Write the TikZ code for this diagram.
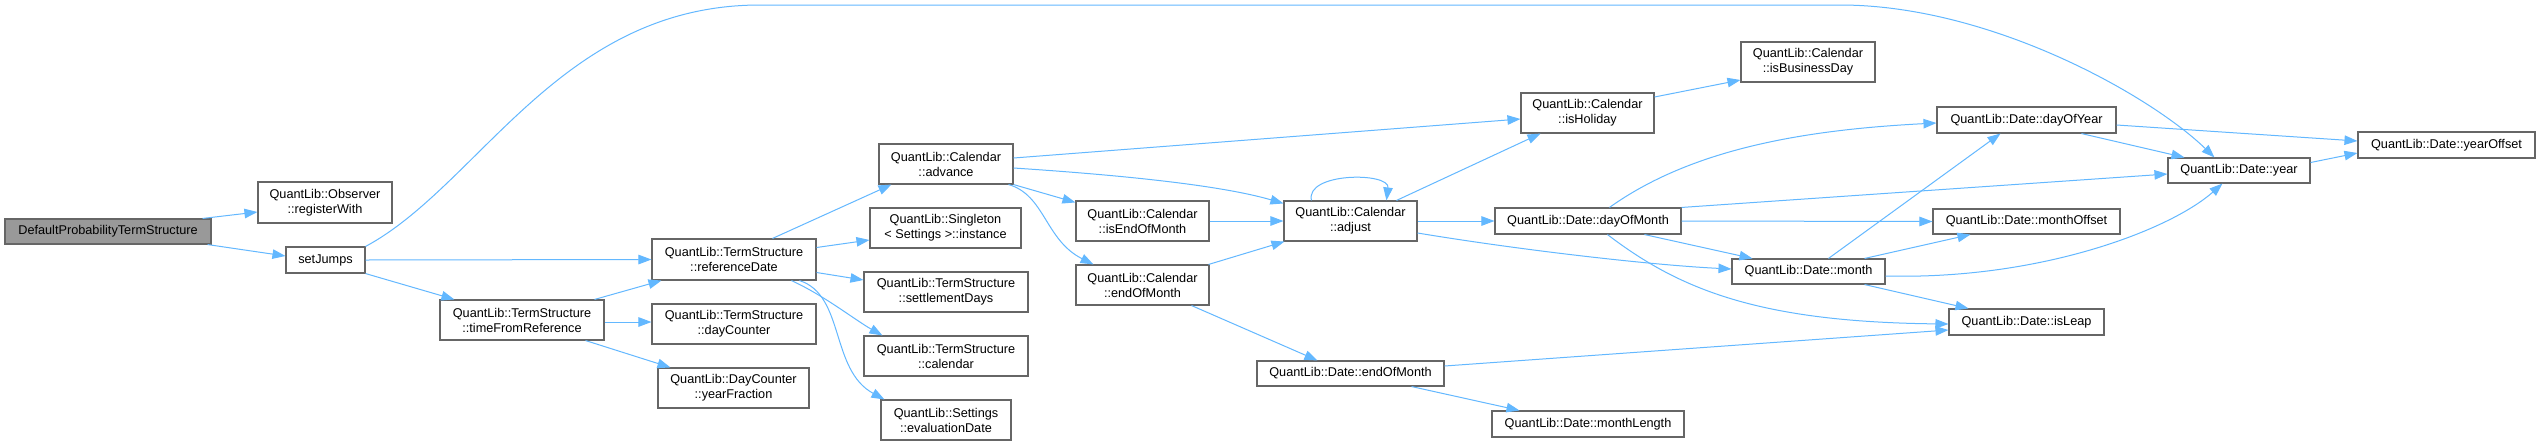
\documentclass[tikz,border=0pt]{standalone}
\usepackage{fontspec}
\setmainfont{Liberation Sans}
\usetikzlibrary{arrows.meta,calc}
\definecolor{edgeblue}{HTML}{63B8FF}
\definecolor{boxgray}{HTML}{666666}
\definecolor{rootfill}{HTML}{999999}
\begin{document}
\begin{tikzpicture}[x=1pt,y=-1pt,
  fn/.style={draw=boxgray, line width=1.1pt, fill=white, inner sep=0pt, align=center, font=\fontsize{12.7}{15}\selectfont},
  root/.style={fn, fill=rootfill},
  sz/.style 2 args={minimum width=#1pt, minimum height=#2pt},
  e/.style={draw=edgeblue, line width=1pt, -{Triangle[length=13pt,width=9.5pt]}}]
\useasboundingbox[fill=white] (0,0) rectangle (2540,445);

\node[root, sz={206}{25}] (dpts) at (108,231.5) {DefaultProbabilityTermStructure};
\node[fn, sz={134}{41}] (regw) at (325,202.5) {QuantLib::Observer\\::registerWith};
\node[fn, sz={79}{26}] (setj) at (325.5,260) {setJumps};
\node[fn, sz={164}{40}] (tfr) at (522,320) {QuantLib::TermStructure\\::timeFromReference};
\node[fn, sz={164}{41}] (refd) at (734,259.5) {QuantLib::TermStructure\\::referenceDate};
\node[fn, sz={164}{40}] (dcnt) at (734,324) {QuantLib::TermStructure\\::dayCounter};
\node[fn, sz={151}{40}] (yfr) at (733.5,388) {QuantLib::DayCounter\\::yearFraction};
\node[fn, sz={134}{40}] (adv) at (946,164) {QuantLib::Calendar\\::advance};
\node[fn, sz={151}{40}] (inst) at (945.5,228) {QuantLib::Singleton\\< Settings >::instance};
\node[fn, sz={164}{40}] (sdays) at (946,292) {QuantLib::TermStructure\\::settlementDays};
\node[fn, sz={164}{40}] (cal) at (946,356) {QuantLib::TermStructure\\::calendar};
\node[fn, sz={130}{40}] (evd) at (946,420) {QuantLib::Settings\\::evaluationDate};
\node[fn, sz={133}{40}] (ieom) at (1142.5,221) {QuantLib::Calendar\\::isEndOfMonth};
\node[fn, sz={133}{40}] (ceom) at (1142.5,285) {QuantLib::Calendar\\::endOfMonth};
\node[fn, sz={133}{40}] (adj) at (1350.5,221) {QuantLib::Calendar\\::adjust};
\node[fn, sz={187}{25}] (deom) at (1350.5,373.5) {QuantLib::Date::endOfMonth};
\node[fn, sz={133}{40}] (hol) at (1587.5,113) {QuantLib::Calendar\\::isHoliday};
\node[fn, sz={134}{40}] (bday) at (1808,62) {QuantLib::Calendar\\::isBusinessDay};
\node[fn, sz={186}{26}] (dom) at (1588,221) {QuantLib::Date::dayOfMonth};
\node[fn, sz={192}{26}] (mlen) at (1588,424) {QuantLib::Date::monthLength};
\node[fn, sz={179}{26}] (doy) at (2026.5,120) {QuantLib::Date::dayOfYear};
\node[fn, sz={187}{25}] (moff) at (2026.5,221.5) {QuantLib::Date::monthOffset};
\node[fn, sz={153}{25}] (month) at (1808.5,271.5) {QuantLib::Date::month};
\node[fn, sz={155}{26}] (leap) at (2026.5,322) {QuantLib::Date::isLeap};
\node[fn, sz={142}{25}] (year) at (2239,170.5) {QuantLib::Date::year};
\node[fn, sz={177}{26}] (yoff) at (2446.5,145) {QuantLib::Date::yearOffset};

% edges
\draw[e] ($(dpts.north east)+(-9,0)$) -- ($(regw.west)+(0,9.5)$);
\draw[e] ($(dpts.south east)+(-4,0)$) -- ($(setj.west)+(0,-4)$);
\draw[e] (setj.north east) .. controls (480,185) and (560,5) .. (760,5) -- (1840,5)
  .. controls (1990,5) and (2150,95) .. ($(year.north west)+(47,0)$);
\draw[e] (setj.east) -- (refd.west);
\draw[e] (setj.south east) -- ($(tfr.north west)+(15,0)$);
\draw[e] ($(tfr.north east)+(-10,0)$) -- ($(refd.south west)+(10,0)$);
\draw[e] ($(tfr.east)+(0,2)$) -- ($(dcnt.west)+(0,-2)$);
\draw[e] ($(tfr.south east)+(-19,0)$) -- ($(yfr.north west)+(13,0)$);
\draw[e] ($(refd.north west)+(121,0)$) -- ($(adv.south west)+(13,0)$);
\draw[e] ($(refd.east)+(0,-12)$) -- ($(inst.west)+(0,12)$);
\draw[e] ($(refd.east)+(0,13)$) -- ($(sdays.west)+(0,-12)$);
\draw[e] ($(refd.south west)+(140,0)$) .. controls (825,296) and (855,320) .. ($(cal.north west)+(19,0)$);
\draw[e] ($(refd.south west)+(148,0)$) .. controls (845,295) and (830,370) .. ($(evd.north west)+(4,0)$);
\draw[e] ($(adv.east)+(0,-6)$) -- ($(hol.west)+(0,6)$);
\draw[e] ($(adv.east)+(0,4)$) .. controls (1120,175) and (1220,185) .. ($(adj.north west)+(0,3)$);
\draw[e] (adv.south east) -- ($(ieom.north west)+(0,2)$);
\draw[e] ($(adv.south east)+(-5,0)$) .. controls (1045,195) and (1045,240) .. ($(ceom.north west)+(18,0)$);
\draw[e] (ieom.east) -- (adj.west);
\draw[e] ($(ceom.north east)+(-1,0)$) -- ($(adj.south west)+(1,0)$);
\draw[e] ($(ceom.south east)+(-18,0)$) -- ($(deom.north west)+(61,0)$);
\draw[e] ($(adj.north west)+(28,0)$) .. controls (1305,172) and (1390,172) .. ($(adj.north west)+(103,0)$);
\draw[e] ($(adj.north west)+(113,0)$) -- ($(hol.south west)+(20,0)$);
\draw[e] (adj.east) -- (dom.west);
\draw[e] ($(adj.east)+(0,12)$) .. controls (1520,250) and (1650,265) .. ($(month.west)+(0,-2.5)$);
\draw[e] ($(hol.east)+(0,-16)$) -- ($(bday.west)+(0,18)$);
\draw[e] ($(dom.north west)+(115,0)$) .. controls (1690,150) and (1800,130) .. ($(doy.west)+(0,3)$);
\draw[e] (dom.north east) -- ($(year.west)+(0,3.5)$);
\draw[e] (dom.east) -- (moff.west);
\draw[e] ($(dom.south west)+(150,0)$) -- ($(month.north west)+(21,0)$);
\draw[e] ($(dom.south west)+(113,0)$) .. controls (1680,290) and (1760,322) .. ($(leap.west)+(0,2)$);
\draw[e] ($(month.north west)+(97,0)$) -- ($(doy.south west)+(64,0)$);
\draw[e] ($(month.north east)+(-21,0)$) -- ($(moff.south west)+(38,0)$);
\draw[e] ($(month.east)+(0,4.5)$) .. controls (2040,280) and (2170,230) .. ($(year.south west)+(55,0)$);
\draw[e] ($(month.south east)+(-21,0)$) -- ($(leap.north west)+(20,0)$);
\draw[e] ($(doy.east)+(0,5)$) -- ($(yoff.west)+(0,-4)$);
\draw[e] ($(doy.south west)+(145,0)$) -- ($(year.north west)+(17,0)$);
\draw[e] ($(year.east)+(0,-8)$) -- ($(yoff.west)+(0,8)$);
\draw[e] ($(deom.east)+(0,-7.5)$) -- ($(leap.west)+(0,8)$);
\draw[e] ($(deom.south east)+(-33,0)$) -- ($(mlen.north west)+(28,0)$);
\end{tikzpicture}
\end{document}
